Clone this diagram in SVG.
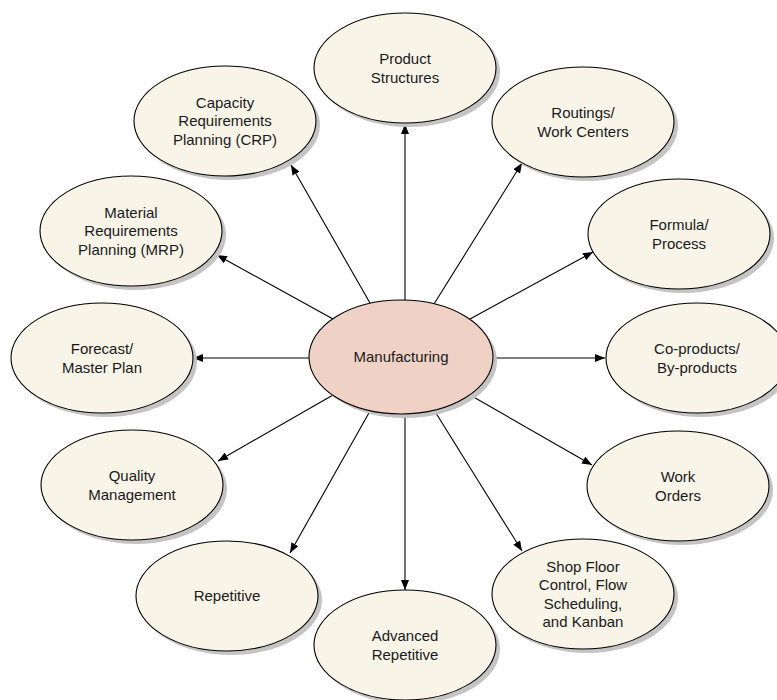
<svg xmlns="http://www.w3.org/2000/svg" width="777" height="700" viewBox="0 0 777 700">
<defs>
<style>
.sh{fill:#c4c4c4;}
.nd{fill:#f8f4e8;stroke:#000;stroke-width:1.1;}
.ct{fill:#efd2c5;stroke:#000;stroke-width:1.1;}
.tx{font-family:"Liberation Sans",Arial,sans-serif;font-size:15px;fill:#1a1a1a;text-anchor:middle;}
.ln{stroke:#000;stroke-width:1.1;fill:none;marker-end:url(#ah);}
</style>
<marker id="ah" viewBox="0 0 10 8" refX="10" refY="4" markerWidth="10" markerHeight="8" markerUnits="userSpaceOnUse" orient="auto">
<path d="M0,0 L10,4 L0,8 z" fill="#000"/>
</marker>
</defs>
<rect width="777" height="700" fill="#fff"/>
<g id="connectors">
<line class="ln" x1="405" y1="300" x2="405" y2="124"/>
<line class="ln" x1="370" y1="303" x2="291" y2="165"/>
<line class="ln" x1="434" y1="304" x2="522" y2="163"/>
<line class="ln" x1="333" y1="319" x2="217" y2="255"/>
<line class="ln" x1="470" y1="319" x2="593" y2="252"/>
<line class="ln" x1="309" y1="358" x2="193" y2="358"/>
<line class="ln" x1="493" y1="358" x2="605" y2="358"/>
<line class="ln" x1="333" y1="395" x2="218" y2="461"/>
<line class="ln" x1="470" y1="395" x2="592" y2="465"/>
<line class="ln" x1="370" y1="411" x2="290" y2="553"/>
<line class="ln" x1="434" y1="410" x2="522" y2="551"/>
<line class="ln" x1="405" y1="414" x2="405" y2="590"/>
</g>
<g id="manufacturing">
<ellipse class="sh" cx="405" cy="361" rx="92" ry="57"/>
<ellipse class="ct" cx="401" cy="357" rx="92" ry="57"/>
<text class="tx" x="401" y="362">Manufacturing</text>
</g>
<g id="product-structures">
<ellipse class="sh" cx="409" cy="72" rx="91" ry="55"/>
<ellipse class="nd" cx="405" cy="68" rx="91" ry="55"/>
<text class="tx" x="405" y="64">Product<tspan x="405" y="82.5">Structures</tspan></text>
</g>
<g id="crp">
<ellipse class="sh" cx="229" cy="125" rx="91" ry="55"/>
<ellipse class="nd" cx="225" cy="121" rx="91" ry="55"/>
<text class="tx" x="225" y="107.5">Capacity<tspan x="225" y="126">Requirements</tspan><tspan x="225" y="144.5">Planning (CRP)</tspan></text>
</g>
<g id="routings">
<ellipse class="sh" cx="587" cy="126" rx="91" ry="55"/>
<ellipse class="nd" cx="583" cy="122" rx="91" ry="55"/>
<text class="tx" x="583" y="118">Routings/<tspan x="583" y="136.5">Work Centers</tspan></text>
</g>
<g id="mrp">
<ellipse class="sh" cx="135" cy="235" rx="91" ry="55"/>
<ellipse class="nd" cx="131" cy="231" rx="91" ry="55"/>
<text class="tx" x="131" y="217.5">Material<tspan x="131" y="236">Requirements</tspan><tspan x="131" y="254.5">Planning (MRP)</tspan></text>
</g>
<g id="formula">
<ellipse class="sh" cx="683" cy="238" rx="91" ry="55"/>
<ellipse class="nd" cx="679" cy="234" rx="91" ry="55"/>
<text class="tx" x="679" y="230">Formula/<tspan x="679" y="248.5">Process</tspan></text>
</g>
<g id="forecast">
<ellipse class="sh" cx="106" cy="362" rx="91" ry="55"/>
<ellipse class="nd" cx="102" cy="358" rx="91" ry="55"/>
<text class="tx" x="102" y="354">Forecast/<tspan x="102" y="372.5">Master Plan</tspan></text>
</g>
<g id="coproducts">
<ellipse class="sh" cx="701" cy="362" rx="91" ry="55"/>
<ellipse class="nd" cx="697" cy="358" rx="91" ry="55"/>
<text class="tx" x="697" y="354">Co-products/<tspan x="697" y="372.5">By-products</tspan></text>
</g>
<g id="quality">
<ellipse class="sh" cx="136" cy="489" rx="91" ry="55"/>
<ellipse class="nd" cx="132" cy="485" rx="91" ry="55"/>
<text class="tx" x="132" y="481">Quality<tspan x="132" y="499.5">Management</tspan></text>
</g>
<g id="workorders">
<ellipse class="sh" cx="682" cy="490" rx="91" ry="55"/>
<ellipse class="nd" cx="678" cy="486" rx="91" ry="55"/>
<text class="tx" x="678" y="482">Work<tspan x="678" y="500.5">Orders</tspan></text>
</g>
<g id="repetitive">
<ellipse class="sh" cx="231" cy="600" rx="91" ry="55"/>
<ellipse class="nd" cx="227" cy="596" rx="91" ry="55"/>
<text class="tx" x="227" y="601">Repetitive</text>
</g>
<g id="shopfloor">
<ellipse class="sh" cx="587" cy="598" rx="91" ry="55"/>
<ellipse class="nd" cx="583" cy="594" rx="91" ry="55"/>
<text class="tx" x="583" y="571.5">Shop Floor<tspan x="583" y="590">Control, Flow</tspan><tspan x="583" y="608.5">Scheduling,</tspan><tspan x="583" y="627">and Kanban</tspan></text>
</g>
<g id="advanced">
<ellipse class="sh" cx="409" cy="649" rx="91" ry="55"/>
<ellipse class="nd" cx="405" cy="645" rx="91" ry="55"/>
<text class="tx" x="405" y="641">Advanced<tspan x="405" y="659.5">Repetitive</tspan></text>
</g>
</svg>
